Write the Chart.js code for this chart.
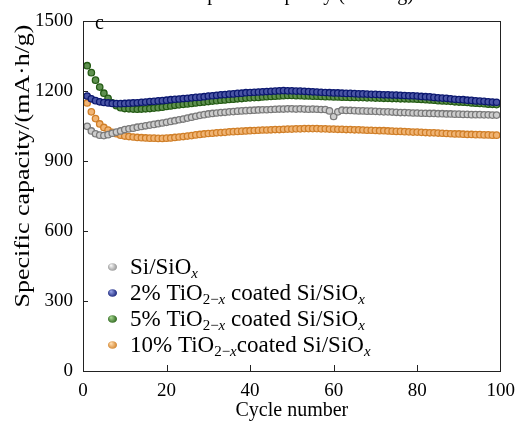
<!DOCTYPE html>
<html>
<head>
<meta charset="utf-8">
<script src="https://cdn.jsdelivr.net/npm/chart.js@4/dist/chart.umd.min.js"></script>
<style>
html,body{margin:0;padding:0;background:#fff;}
#wrap{width:524px;height:421px;}
</style>
</head>
<body>
<div id="wrap"><canvas id="c" width="524" height="421"></canvas></div>
<script>
// ---- data ----
const cycles = [];
for (let i = 1; i <= 99; i++) cycles.push(i);

const siSiOx = [
1050,1030,1018,1012,1010,1014,1020,1025,1030,1036,
1039,1042,1046,1049,1052,1055,1058,1061,1064,1067,
1071,1074,1078,1081,1085,1089,1093,1097,1100,1103,
1105,1107,1109,1110,1112,1113,1115,1116,1117,1118,
1119,1120,1121,1121,1122,1123,1124,1124,1125,1125,
1124,1125,1124,1123,1124,1123,1122,1122,1116,1092,
1112,1119,1118,1118,1117,1116,1116,1115,1115,1114,
1113,1112,1112,1111,1110,1109,1109,1108,1107,1107,
1106,1106,1105,1105,1104,1104,1103,1103,1102,1102,
1101,1101,1100,1100,1100,1099,1099,1098,1098
];
const tio2pct2 = [
1180,1168,1160,1155,1152,1150,1148,1147,1147,1148,
1149,1150,1151,1153,1154,1156,1157,1159,1160,1162,
1164,1166,1167,1169,1170,1172,1174,1175,1177,1180,
1181,1183,1185,1186,1188,1189,1191,1192,1194,1195,
1196,1197,1198,1199,1200,1201,1202,1203,1202,1202,
1201,1201,1200,1199,1198,1197,1196,1195,1194,1193,
1193,1192,1191,1191,1190,1189,1189,1188,1187,1187,
1186,1185,1185,1184,1184,1183,1182,1181,1181,1180,
1178,1177,1176,1174,1172,1171,1170,1168,1166,1165,
1164,1162,1161,1159,1158,1157,1155,1154,1153
];
const tio2pct5 = [
1310,1280,1248,1218,1192,1170,1150,1138,1130,1126,
1125,1124,1123,1124,1125,1126,1128,1130,1132,1135,
1137,1140,1142,1144,1146,1148,1150,1152,1154,1156,
1158,1160,1162,1163,1165,1166,1168,1169,1171,1172,
1173,1174,1176,1177,1178,1179,1180,1181,1182,1182,
1181,1181,1180,1180,1179,1179,1178,1177,1177,1176,
1176,1175,1175,1174,1174,1173,1173,1172,1172,1171,
1171,1170,1170,1169,1169,1168,1168,1167,1167,1166,
1165,1164,1163,1162,1160,1159,1158,1157,1155,1154,
1153,1152,1150,1149,1148,1147,1145,1144,1143
];
const tio2pct10 = [
1150,1112,1083,1060,1045,1034,1024,1018,1012,1008,
1006,1004,1002,1001,1000,999,999,998,998,999,
1000,1002,1004,1006,1008,1010,1013,1015,1017,1019,
1020,1022,1023,1024,1026,1027,1028,1029,1030,1031,
1032,1033,1034,1034,1035,1036,1036,1037,1038,1038,
1039,1039,1040,1040,1040,1040,1039,1039,1038,1038,
1037,1037,1036,1036,1035,1035,1034,1033,1033,1032,
1031,1031,1030,1029,1028,1028,1027,1026,1025,1025,
1024,1023,1022,1022,1021,1020,1019,1018,1017,1017,
1016,1015,1015,1014,1014,1013,1013,1012,1012
];
const xTicks = [0, 20, 40, 60, 80, 100];
const yTicks = [0, 300, 600, 900, 1200, 1500];

const xTitle = 'Cycle number';
const yTitle = 'Specific capacity/(mA\u00B7h/g)';
const topCutTitle = 'Specific capacity (mA\u00B7h/g)';
const panelLabel = 'c';
// legend rows: [text, kind] kind: n = normal, s = subscript, si = italic subscript
const legendRows = [
  [['Si/SiO','n'],['x','si']],
  [['2% TiO','n'],['2\u2212','s'],['x','si'],[' coated Si/SiO','n'],['x','si']],
  [['5% TiO','n'],['2\u2212','s'],['x','si'],[' coated Si/SiO','n'],['x','si']],
  [['10% TiO','n'],['2\u2212','s'],['x','si'],['coated Si/SiO','n'],['x','si']]
];

const SERIF = '"Liberation Serif", "Times New Roman", serif';

const seriesStyle = [
  {border:'#7a7a7a', bg:'#cdcdcd', ball:['#f2f2f2','#8a8a8a']},
  {border:'#0c1870', bg:'#4a55a5', ball:['#8f9be0','#0c1870']},
  {border:'#235a13', bg:'#5f9050', ball:['#9fd08a','#1f5a10']},
  {border:'#d07f28', bg:'#f0b474', ball:['#ffd9a8','#cc7a20']}
];
const seriesData = [siSiOx, tio2pct2, tio2pct5, tio2pct10];
const seriesNames = ['Si/SiOx','2% TiO2-x coated Si/SiOx','5% TiO2-x coated Si/SiOx','10% TiO2-x coated Si/SiOx'];

const datasets = seriesData.map((arr, k) => ({
  label: seriesNames[k],
  data: arr.map((v, i) => ({x: cycles[i], y: v})),
  showLine: false,
  pointStyle: 'circle',
  pointRadius: 3.2,
  pointBorderWidth: 1.3,
  borderColor: seriesStyle[k].border,
  backgroundColor: seriesStyle[k].bg,
  pointBorderColor: seriesStyle[k].border,
  pointBackgroundColor: seriesStyle[k].bg
}));

const deco = {
  id: 'deco',
  afterDatasetsDraw(chart) {
    const ctx = chart.ctx;
    const a = chart.chartArea;
    const xs = chart.scales.x, ys = chart.scales.y;
    ctx.save();
    ctx.strokeStyle = '#222';
    ctx.lineWidth = 1;
    ctx.strokeRect(Math.round(a.left) + 0.5, Math.round(a.top) + 0.5,
                   Math.round(a.right - a.left) - 1, Math.round(a.bottom - a.top));
    ctx.beginPath();
    xTicks.forEach(v => {
      if (v === xTicks[0] || v === xTicks[xTicks.length - 1]) return;
      const px = Math.round(xs.getPixelForValue(v)) + 0.5;
      ctx.moveTo(px, a.bottom);
      ctx.lineTo(px, a.bottom - 6);
    });
    yTicks.forEach(v => {
      if (v === yTicks[0] || v === yTicks[yTicks.length - 1]) return;
      const py = Math.round(ys.getPixelForValue(v)) + 0.5;
      ctx.moveTo(a.left, py);
      ctx.lineTo(a.left + 5, py);
    });
    ctx.stroke();
    ctx.restore();
  },
  afterDraw(chart) {
    const ctx = chart.ctx;
    ctx.save();
    ctx.fillStyle = '#000';
    ctx.font = '20px ' + SERIF;
    ctx.textAlign = 'center';
    ctx.textBaseline = 'alphabetic';
    ctx.fillText(topCutTitle, 305, 0);
    ctx.font = '20px ' + SERIF;
    ctx.textAlign = 'left';
    ctx.fillText(panelLabel, 95, 29);
    // y axis title
    ctx.save();
    ctx.translate(23, 166);
    ctx.rotate(-Math.PI / 2);
    ctx.scale(1.08, 0.9);
    ctx.font = '24px ' + SERIF;
    ctx.textAlign = 'center';
    ctx.textBaseline = 'middle';
    ctx.fillText(yTitle, 0, 0);
    ctx.restore();
    // legend
    const F = 23;
    const rowY = [267, 293, 319, 345];
    legendRows.forEach((row, r) => {
      const cy = rowY[r];
      const st = seriesStyle[r];
      const g = ctx.createRadialGradient(111, cy - 1.5, 0.5, 112.5, cy, 5);
      g.addColorStop(0, st.ball[0]);
      g.addColorStop(1, st.ball[1]);
      ctx.fillStyle = g;
      ctx.beginPath();
      ctx.ellipse(112.5, cy, 4.5, 3.8, 0, 0, Math.PI * 2);
      ctx.fill();
      ctx.fillStyle = '#000';
      ctx.textAlign = 'left';
      ctx.textBaseline = 'alphabetic';
      let x = 130;
      const base = cy + 7;
      row.forEach(([t, k]) => {
        if (k === 'n') {
          ctx.font = F + 'px ' + SERIF;
          ctx.fillText(t, x, base);
        } else if (k === 's') {
          ctx.font = Math.round(F * 0.66) + 'px ' + SERIF;
          ctx.fillText(t, x, base + 4);
        } else {
          ctx.font = 'italic ' + Math.round(F * 0.66) + 'px ' + SERIF;
          ctx.fillText(t, x, base + 4);
        }
        x += ctx.measureText(t).width;
      });
    });
    ctx.restore();
  }
};

new Chart(document.getElementById('c'), {
  type: 'scatter',
  data: { datasets },
  options: {
    responsive: false,
    animation: false,
    devicePixelRatio: 1,
    layout: { padding: { left: 0, right: 17, top: 12, bottom: 0 } },
    plugins: { legend: { display: false }, tooltip: { enabled: false }, title: { display: false } },
    scales: {
      x: {
        type: 'linear',
        min: xTicks[0], max: xTicks[xTicks.length - 1],
        afterBuildTicks: s => { s.ticks = xTicks.map(v => ({value: v})); },
        grid: { display: false, drawTicks: false },
        border: { display: false },
        ticks: { color: '#000', padding: 9, maxRotation: 0, autoSkip: false,
                 callback: v => String(v),
                 font: { family: SERIF, size: 19 } },
        title: { display: true, text: xTitle, color: '#000',
                 font: { family: SERIF, size: 20, lineHeight: 1.0 }, padding: { top: 0, bottom: 0 } },
        afterFit: s => { s.height = 50; }
      },
      y: {
        type: 'linear',
        min: yTicks[0], max: yTicks[yTicks.length - 1],
        afterBuildTicks: s => { s.ticks = yTicks.map(v => ({value: v})); },
        grid: { display: false, drawTicks: false },
        border: { display: false },
        ticks: { color: '#000', padding: 10, autoSkip: false,
                 callback: v => String(v),
                 font: { family: SERIF, size: 19 } },
        afterFit: s => { s.width = 83; }
      }
    }
  },
  plugins: [deco]
});
</script>
</body>
</html>
